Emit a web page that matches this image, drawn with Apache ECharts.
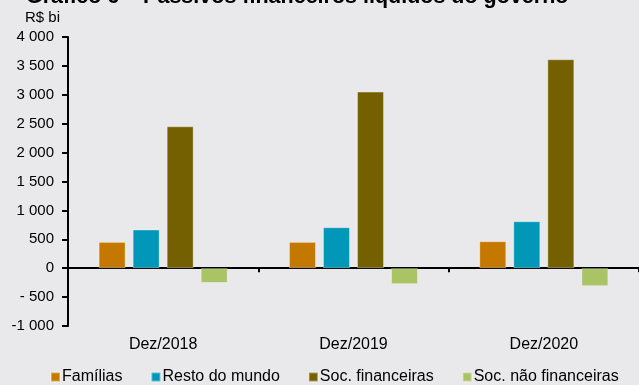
<!DOCTYPE html>
<html>
<head>
<meta charset="utf-8">
<script src="https://cdn.jsdelivr.net/npm/echarts@6/dist/echarts.min.js"></script>
<style>
  html, body { margin: 0; padding: 0; background: #e9e9eb; }
  #chart { width: 639px; height: 385px; }
</style>
</head>
<body>
<div id="chart"></div>
<script>
// Passivos financeiros líquidos do governo, por setor credor (R$ bi)
const categories = ['Dez/2018', 'Dez/2019', 'Dez/2020'];
const familias = [455, 455, 467];
const restoDoMundo = [670, 709, 813];
const socFinanceiras = [2455, 3055, 3615];
const socNaoFinanceiras = [-255, -277, -311];
const seriesNames = ['Famílias', 'Resto do mundo', 'Soc. financeiras', 'Soc. não financeiras'];
const seriesColors = ['#c47800', '#0097b9', '#756000', '#a9c365'];
const yTickValues = [-1000, -500, 0, 500, 1000, 1500, 2000, 2500, 3000, 3500, 4000];
const yTickLabels = ['-1 000', '- 500', '0', '500', '1 000', '1 500', '2 000', '2 500', '3 000', '3 500', '4 000'];

const FONT = 'Liberation Sans, Arial, sans-serif';
const chart = echarts.init(document.getElementById('chart'), null, { renderer: 'canvas' });

const seriesData = [familias, restoDoMundo, socFinanceiras, socNaoFinanceiras];

chart.setOption({
  backgroundColor: '#e9e9eb',
  animation: false,
  title: {
    text: 'Gráfico 6 – Passivos financeiros líquidos do governo',
    left: 21,
    top: -19,
    textStyle: { fontFamily: FONT, fontSize: 21.5, fontWeight: 'bold', color: '#000' }
  },
  graphic: [{
    type: 'text',
    left: 25,
    top: 10,
    style: { text: 'R$ bi', fontFamily: FONT, fontSize: 15, fill: '#000' }
  }],
  legend: {
    data: seriesNames,
    left: 50,
    top: 369,
    padding: 0,
    icon: 'rect',
    itemWidth: 9,
    itemHeight: 9,
    itemGap: 28,
    textStyle: { fontFamily: FONT, fontSize: 16, color: '#000', padding: [0, 0, 0, -3] }
  },
  grid: { left: 68, top: 37, bottom: 59, right: -3, containLabel: false },
  xAxis: [{
    type: 'category',
    data: categories,
    position: 'bottom',
    axisLine: { show: false, onZero: false },
    axisTick: { show: false },
    axisLabel: { fontFamily: FONT, fontSize: 16, color: '#000', margin: 11 }
  }, {
    type: 'category',
    data: categories,
    position: 'bottom',
    axisLine: { show: true, onZero: true, lineStyle: { color: '#000', width: 2 } },
    axisTick: { show: true, inside: false, length: 4, lineStyle: { color: '#000', width: 2 } },
    axisLabel: { show: false }
  }],
  yAxis: {
    type: 'value',
    min: -1000,
    max: 4000,
    interval: 500,
    axisLine: { show: true, lineStyle: { color: '#000', width: 2 } },
    axisTick: { show: true, length: 6, lineStyle: { color: '#000', width: 2 } },
    splitLine: { show: false },
    axisLabel: {
      fontFamily: FONT, fontSize: 15, color: '#000', margin: 14,
      formatter: v => yTickLabels[yTickValues.indexOf(v)]
    }
  },
  series: seriesNames.map((name, i) => ({
    name: name,
    type: 'bar',
    xAxisIndex: 0,
    data: seriesData[i],
    barWidth: 27,
    barGap: '26%',
    itemStyle: { color: seriesColors[i], borderColor: 'rgba(255,255,255,0.35)', borderWidth: 1 }
  }))
});
</script>
</body>
</html>
